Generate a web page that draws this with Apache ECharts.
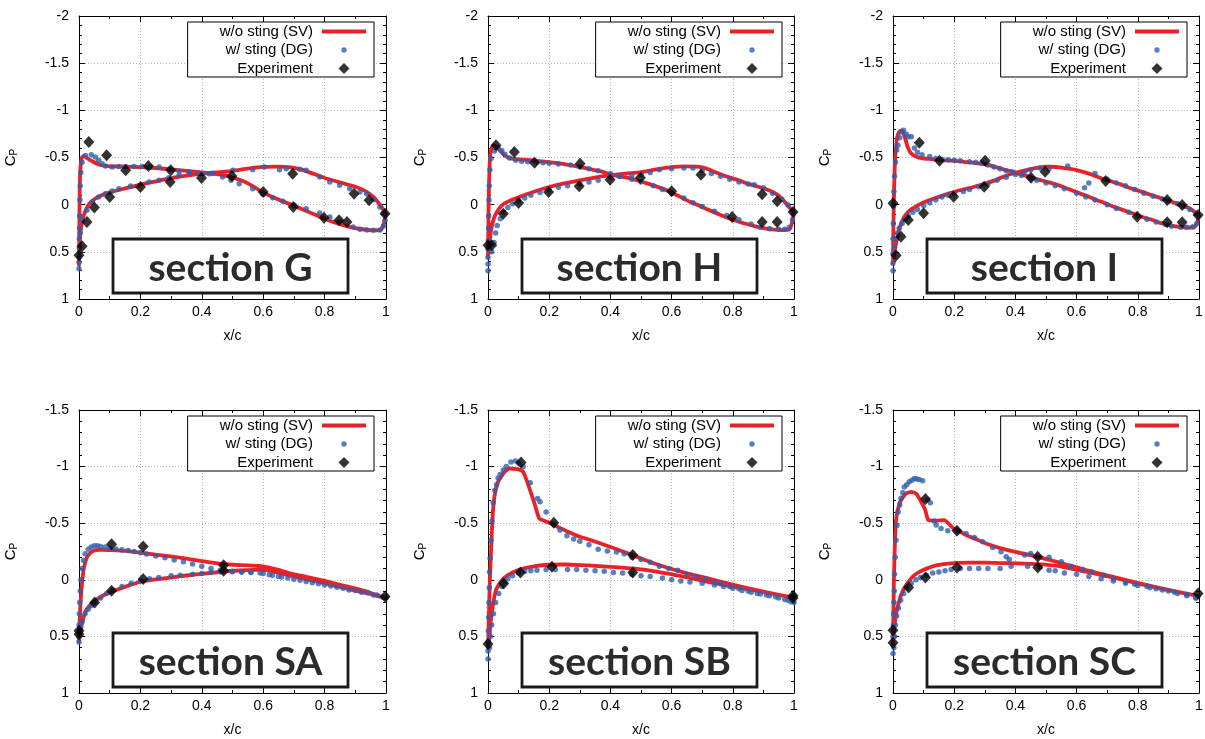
<!DOCTYPE html>
<html><head><meta charset="utf-8">
<script src="https://cdn.jsdelivr.net/npm/echarts@6/dist/echarts.min.js"></script>
<style>html,body{margin:0;padding:0;background:#fff}#c{width:1205px;height:739px}</style>
</head><body><div id="c"></div>
<script>
// ---------------- DATA ----------------
const SERIES_NAMES = ['w/o sting (SV)', 'w/ sting (DG)', 'Experiment'];
const SECTIONS = ['section G', 'section H', 'section I', 'section SA', 'section SB', 'section SC'];
const Y_MIN = [-2, -2, -2, -1.5, -1.5, -1.5];
const Y_MAX = [1, 1, 1, 1, 1, 1];
const X_LABEL = 'x/c';

const G_SV = [[1.0,0.1],[0.993,0.2],[0.985,0.262],[0.96,0.272],[0.937,0.266],[0.9,0.248],[0.87,0.226],[0.84,0.197],[0.806,0.157],[0.77,0.108],[0.74,0.066],[0.70,0.012],[0.665,-0.034],[0.63,-0.082],[0.6,-0.127],[0.566,-0.197],[0.53,-0.255],[0.49,-0.298],[0.45,-0.323],[0.4,-0.343],[0.35,-0.358],[0.3,-0.373],[0.25,-0.388],[0.2,-0.398],[0.15,-0.404],[0.1,-0.406],[0.07,-0.42],[0.045,-0.458],[0.025,-0.497],[0.015,-0.518],[0.008,-0.49],[0.004,-0.35],[0.002,-0.1],[0.001,0.3],[0.0,0.64],[0.003,0.35],[0.008,0.22],[0.015,0.12],[0.025,0.035],[0.035,-0.015],[0.05,-0.058],[0.07,-0.095],[0.1,-0.13],[0.15,-0.172],[0.2,-0.212],[0.25,-0.248],[0.3,-0.282],[0.35,-0.308],[0.4,-0.328],[0.45,-0.343],[0.5,-0.358],[0.55,-0.382],[0.6,-0.4],[0.65,-0.404],[0.69,-0.396],[0.72,-0.376],[0.76,-0.332],[0.8,-0.283],[0.85,-0.237],[0.9,-0.19],[0.93,-0.148],[0.96,-0.08],[0.98,0.0],[0.993,0.06],[1.0,0.1]];
const G_DG = [[0.0,0.68],[0.0,0.61],[0.0,0.55],[0.001,0.46],[0.001,0.36],[0.002,0.25],[0.002,0.12],[0.003,-0.05],[0.004,-0.2],[0.006,-0.34],[0.01,-0.45],[0.021,-0.52],[0.04,-0.53],[0.053,-0.505],[0.064,-0.47],[0.075,-0.435],[0.086,-0.41],[0.108,-0.4],[0.13,-0.405],[0.152,-0.405],[0.179,-0.405],[0.206,-0.405],[0.233,-0.4],[0.261,-0.398],[0.293,-0.375],[0.326,-0.355],[0.359,-0.346],[0.391,-0.33],[0.424,-0.328],[0.468,-0.293],[0.495,-0.258],[0.522,-0.223],[0.566,-0.17],[0.599,-0.11],[0.631,-0.074],[0.664,-0.035],[0.702,0.007],[0.74,0.042],[0.784,0.088],[0.817,0.131],[0.849,0.184],[0.893,0.237],[0.915,0.261],[0.937,0.268],[0.959,0.272],[0.98,0.268],[0.991,0.23],[0.997,0.166],[0.004,0.3],[0.01,0.166],[0.026,0.06],[0.043,-0.028],[0.064,-0.081],[0.086,-0.117],[0.108,-0.145],[0.13,-0.17],[0.168,-0.198],[0.228,-0.24],[0.261,-0.258],[0.293,-0.286],[0.326,-0.311],[0.359,-0.339],[0.402,-0.329],[0.435,-0.33],[0.501,-0.364],[0.566,-0.371],[0.604,-0.4],[0.653,-0.371],[0.675,-0.382],[0.719,-0.375],[0.74,-0.364],[0.784,-0.293],[0.817,-0.24],[0.849,-0.205],[0.882,-0.17],[0.915,-0.134],[0.937,-0.117],[0.959,-0.053],[0.98,0.025],[0.991,0.09]];
const G_EXP = [[0.0,0.537],[0.01,0.44],[0.026,0.184],[0.05,0.03],[0.1,-0.08],[0.032,-0.664],[0.09,-0.523],[0.152,-0.364],[0.2,-0.187],[0.226,-0.41],[0.299,-0.364],[0.297,-0.24],[0.399,-0.283],[0.498,-0.304],[0.6,-0.134],[0.696,-0.329],[0.698,0.025],[0.798,0.138],[0.847,0.166],[0.873,0.184],[0.896,-0.117],[0.945,-0.046],[0.997,0.095]];

const H_SV = [[1.0,0.09],[0.993,0.2],[0.985,0.262],[0.96,0.27],[0.937,0.265],[0.9,0.248],[0.87,0.228],[0.84,0.2],[0.81,0.17],[0.78,0.135],[0.75,0.095],[0.72,0.055],[0.69,0.01],[0.66,-0.03],[0.63,-0.08],[0.6,-0.13],[0.57,-0.17],[0.54,-0.205],[0.5,-0.245],[0.47,-0.275],[0.43,-0.3],[0.4,-0.322],[0.37,-0.352],[0.33,-0.38],[0.3,-0.4],[0.27,-0.418],[0.24,-0.435],[0.2,-0.45],[0.15,-0.468],[0.1,-0.48],[0.075,-0.49],[0.055,-0.52],[0.04,-0.57],[0.028,-0.615],[0.018,-0.625],[0.012,-0.6],[0.007,-0.52],[0.004,-0.3],[0.002,0.0],[0.001,0.3],[0.0,0.55],[0.005,0.4],[0.01,0.27],[0.021,0.13],[0.037,0.04],[0.05,-0.005],[0.064,-0.03],[0.08,-0.055],[0.108,-0.088],[0.152,-0.14],[0.2,-0.187],[0.25,-0.225],[0.3,-0.258],[0.35,-0.287],[0.4,-0.312],[0.45,-0.33],[0.5,-0.346],[0.54,-0.368],[0.57,-0.385],[0.6,-0.398],[0.64,-0.405],[0.68,-0.404],[0.7,-0.395],[0.72,-0.375],[0.75,-0.335],[0.78,-0.298],[0.82,-0.258],[0.85,-0.22],[0.88,-0.193],[0.905,-0.168],[0.93,-0.135],[0.95,-0.095],[0.975,-0.01],[0.99,0.05],[1.0,0.09]];
const H_DG = [[0.0,0.7],[0.0,0.63],[0.0,0.56],[0.0,0.47],[0.001,0.38],[0.002,0.25],[0.002,0.12],[0.003,-0.05],[0.004,-0.2],[0.006,-0.37],[0.01,-0.49],[0.021,-0.57],[0.033,-0.6],[0.045,-0.575],[0.055,-0.535],[0.07,-0.495],[0.09,-0.47],[0.11,-0.46],[0.13,-0.455],[0.16,-0.45],[0.18,-0.445],[0.2,-0.44],[0.23,-0.43],[0.27,-0.42],[0.3,-0.4],[0.33,-0.38],[0.36,-0.36],[0.4,-0.33],[0.43,-0.3],[0.47,-0.27],[0.5,-0.24],[0.54,-0.2],[0.57,-0.16],[0.6,-0.12],[0.64,-0.07],[0.67,-0.02],[0.7,0.02],[0.74,0.07],[0.78,0.115],[0.82,0.16],[0.86,0.205],[0.89,0.24],[0.92,0.255],[0.95,0.26],[0.97,0.26],[0.985,0.24],[0.995,0.16],[0.012,0.5],[0.02,0.4],[0.025,0.3],[0.03,0.22],[0.04,0.15],[0.05,0.08],[0.065,0.03],[0.08,-0.01],[0.1,-0.04],[0.12,-0.07],[0.14,-0.1],[0.17,-0.13],[0.2,-0.155],[0.23,-0.185],[0.26,-0.2],[0.3,-0.22],[0.33,-0.24],[0.36,-0.26],[0.4,-0.29],[0.43,-0.3],[0.47,-0.31],[0.5,-0.32],[0.53,-0.34],[0.56,-0.37],[0.6,-0.38],[0.64,-0.39],[0.67,-0.39],[0.7,-0.36],[0.73,-0.33],[0.76,-0.3],[0.79,-0.27],[0.82,-0.24],[0.85,-0.22],[0.87,-0.21],[0.9,-0.18],[0.93,-0.12],[0.96,-0.06],[0.98,0.0],[0.995,0.06]];
const H_EXP = [[0.0,0.43],[0.012,0.43],[0.026,-0.63],[0.086,-0.558],[0.152,-0.445],[0.301,-0.435],[0.05,0.095],[0.1,-0.018],[0.198,-0.134],[0.298,-0.194],[0.399,-0.265],[0.498,-0.286],[0.6,-0.141],[0.696,-0.318],[0.798,0.131],[0.896,-0.11],[0.896,0.184],[0.945,0.184],[0.945,-0.035],[0.997,0.078]];

const I_SV = [[1.0,0.12],[0.993,0.2],[0.985,0.238],[0.96,0.242],[0.93,0.232],[0.904,0.216],[0.87,0.19],[0.85,0.165],[0.81,0.125],[0.784,0.094],[0.75,0.055],[0.72,0.02],[0.69,-0.02],[0.664,-0.05],[0.64,-0.085],[0.61,-0.12],[0.58,-0.158],[0.555,-0.19],[0.53,-0.218],[0.5,-0.245],[0.47,-0.27],[0.446,-0.296],[0.42,-0.32],[0.39,-0.35],[0.36,-0.375],[0.33,-0.405],[0.3,-0.43],[0.26,-0.445],[0.2,-0.465],[0.15,-0.473],[0.12,-0.485],[0.097,-0.49],[0.075,-0.51],[0.059,-0.544],[0.048,-0.61],[0.04,-0.7],[0.032,-0.775],[0.026,-0.785],[0.02,-0.77],[0.014,-0.72],[0.01,-0.62],[0.006,-0.42],[0.003,-0.1],[0.001,0.3],[0.0,0.62],[0.005,0.5],[0.01,0.41],[0.021,0.25],[0.037,0.127],[0.05,0.075],[0.064,0.04],[0.08,0.01],[0.097,-0.02],[0.125,-0.055],[0.152,-0.085],[0.2,-0.137],[0.26,-0.185],[0.304,-0.226],[0.33,-0.255],[0.36,-0.296],[0.4,-0.338],[0.446,-0.375],[0.48,-0.395],[0.5,-0.403],[0.52,-0.402],[0.544,-0.396],[0.57,-0.383],[0.6,-0.367],[0.63,-0.34],[0.653,-0.314],[0.68,-0.28],[0.708,-0.252],[0.74,-0.22],[0.762,-0.19],[0.8,-0.15],[0.828,-0.12],[0.86,-0.085],[0.893,-0.05],[0.937,0.0],[0.97,0.04],[0.991,0.09],[1.0,0.12]];
const I_DG = [[0.0,0.7],[0.0,0.62],[0.0,0.52],[0.0,0.36],[0.001,0.2],[0.002,0.02],[0.003,-0.14],[0.005,-0.3],[0.008,-0.45],[0.012,-0.58],[0.016,-0.63],[0.022,-0.71],[0.028,-0.77],[0.034,-0.79],[0.043,-0.75],[0.05,-0.72],[0.06,-0.72],[0.07,-0.6],[0.08,-0.555],[0.095,-0.53],[0.12,-0.51],[0.14,-0.49],[0.16,-0.48],[0.18,-0.475],[0.2,-0.47],[0.22,-0.465],[0.25,-0.455],[0.27,-0.45],[0.29,-0.44],[0.31,-0.42],[0.33,-0.4],[0.35,-0.38],[0.37,-0.36],[0.39,-0.345],[0.42,-0.31],[0.45,-0.28],[0.47,-0.26],[0.5,-0.23],[0.53,-0.2],[0.56,-0.17],[0.6,-0.12],[0.63,-0.08],[0.66,-0.05],[0.7,0.0],[0.73,0.04],[0.77,0.08],[0.8,0.12],[0.83,0.155],[0.86,0.185],[0.89,0.21],[0.91,0.23],[0.94,0.24],[0.96,0.24],[0.98,0.235],[0.993,0.2],[0.005,0.45],[0.01,0.36],[0.015,0.3],[0.02,0.25],[0.03,0.2],[0.04,0.16],[0.05,0.12],[0.065,0.08],[0.08,0.05],[0.1,0.01],[0.12,-0.02],[0.14,-0.05],[0.16,-0.08],[0.18,-0.1],[0.2,-0.12],[0.23,-0.14],[0.25,-0.16],[0.28,-0.19],[0.31,-0.22],[0.34,-0.26],[0.37,-0.29],[0.4,-0.32],[0.43,-0.35],[0.45,-0.37],[0.48,-0.39],[0.51,-0.38],[0.571,-0.41],[0.626,-0.18],[0.64,-0.23],[0.66,-0.33],[0.7,-0.27],[0.73,-0.23],[0.76,-0.2],[0.79,-0.16],[0.82,-0.12],[0.85,-0.09],[0.88,-0.06],[0.9,-0.04],[0.93,-0.01],[0.95,0.02],[0.97,0.05],[0.99,0.1]];
const I_EXP = [[0.0,-0.014],[0.01,0.54],[0.026,0.34],[0.05,0.163],[0.1,0.092],[0.086,-0.657],[0.152,-0.466],[0.301,-0.466],[0.198,-0.085],[0.298,-0.19],[0.451,-0.286],[0.497,-0.35],[0.695,-0.25],[0.798,0.127],[0.896,-0.05],[0.945,0.004],[0.896,0.187],[0.945,0.187],[0.997,0.11]];

const SA_SV = [[1.0,0.165],[0.937,0.103],[0.85,0.044],[0.8,0.01],[0.74,-0.026],[0.69,-0.055],[0.653,-0.085],[0.62,-0.108],[0.588,-0.122],[0.55,-0.128],[0.5,-0.133],[0.457,-0.142],[0.4,-0.165],[0.35,-0.186],[0.304,-0.205],[0.25,-0.222],[0.2,-0.24],[0.15,-0.255],[0.108,-0.262],[0.08,-0.265],[0.064,-0.265],[0.05,-0.26],[0.043,-0.25],[0.035,-0.232],[0.026,-0.2],[0.015,-0.09],[0.008,0.09],[0.004,0.25],[0.002,0.38],[0.0,0.54],[0.005,0.45],[0.01,0.38],[0.021,0.28],[0.037,0.22],[0.05,0.19],[0.064,0.162],[0.085,0.13],[0.108,0.103],[0.152,0.06],[0.2,0.017],[0.25,-0.004],[0.304,-0.022],[0.35,-0.038],[0.4,-0.052],[0.468,-0.072],[0.522,-0.082],[0.57,-0.087],[0.6,-0.088],[0.63,-0.075],[0.653,-0.06],[0.7,-0.03],[0.74,-0.006],[0.8,0.03],[0.85,0.063],[0.9,0.095],[0.937,0.118],[0.97,0.14],[1.0,0.165]];
const SA_DG = [[0.0,0.55],[0.0,0.5],[0.0,0.4],[0.001,0.3],[0.002,0.2],[0.004,0.1],[0.006,0.0],[0.01,-0.1],[0.015,-0.17],[0.02,-0.23],[0.03,-0.27],[0.04,-0.29],[0.05,-0.3],[0.06,-0.3],[0.07,-0.295],[0.085,-0.29],[0.1,-0.28],[0.12,-0.272],[0.14,-0.265],[0.16,-0.258],[0.18,-0.25],[0.2,-0.24],[0.22,-0.228],[0.25,-0.21],[0.28,-0.195],[0.31,-0.175],[0.34,-0.16],[0.37,-0.14],[0.4,-0.12],[0.43,-0.1],[0.46,-0.085],[0.5,-0.075],[0.53,-0.07],[0.56,-0.065],[0.6,-0.055],[0.63,-0.04],[0.66,-0.025],[0.7,-0.005],[0.74,0.015],[0.78,0.035],[0.82,0.055],[0.86,0.075],[0.9,0.095],[0.94,0.115],[0.97,0.135],[1.0,0.16],[0.005,0.42],[0.01,0.37],[0.02,0.3],[0.03,0.26],[0.04,0.23],[0.05,0.2],[0.07,0.16],[0.09,0.12],[0.11,0.09],[0.14,0.06],[0.17,0.03],[0.2,0.01],[0.23,-0.01],[0.26,-0.02],[0.3,-0.035],[0.33,-0.04],[0.37,-0.05],[0.4,-0.055],[0.43,-0.065],[0.46,-0.07],[0.5,-0.072],[0.53,-0.072],[0.56,-0.068],[0.59,-0.06],[0.62,-0.045],[0.65,-0.03],[0.68,-0.015],[0.72,0.005],[0.76,0.025],[0.8,0.045],[0.84,0.065],[0.88,0.09],[0.92,0.11],[0.96,0.135],[0.99,0.155]];
const SA_EXP = [[0.0,0.45],[0.0,0.48],[0.051,0.2],[0.106,0.097],[0.209,-0.006],[0.471,-0.079],[0.106,-0.315],[0.209,-0.294],[0.471,-0.129],[0.997,0.147]];

const SB_SV = [[1.0,0.16],[0.904,0.106],[0.806,0.047],[0.719,-0.012],[0.631,-0.071],[0.544,-0.144],[0.473,-0.218],[0.4,-0.29],[0.337,-0.35],[0.3,-0.38],[0.261,-0.424],[0.23,-0.465],[0.2,-0.504],[0.168,-0.54],[0.152,-0.674],[0.13,-0.851],[0.115,-0.955],[0.1,-0.975],[0.086,-0.98],[0.07,-0.983],[0.055,-0.955],[0.043,-0.91],[0.032,-0.86],[0.021,-0.733],[0.015,-0.556],[0.01,-0.26],[0.006,0.0],[0.003,0.3],[0.0,0.6],[0.005,0.5],[0.008,0.386],[0.015,0.24],[0.026,0.09],[0.043,0.012],[0.064,-0.04],[0.097,-0.085],[0.141,-0.115],[0.2,-0.133],[0.25,-0.135],[0.304,-0.13],[0.35,-0.123],[0.4,-0.115],[0.473,-0.1],[0.555,-0.071],[0.631,-0.032],[0.719,0.018],[0.806,0.062],[0.904,0.108],[1.0,0.16]];
const SB_DG = [[0.0,0.7],[0.0,0.63],[0.0,0.55],[0.001,0.45],[0.002,0.33],[0.003,0.2],[0.004,0.07],[0.005,-0.07],[0.007,-0.19],[0.01,-0.35],[0.013,-0.52],[0.017,-0.68],[0.022,-0.79],[0.028,-0.84],[0.033,-0.9],[0.04,-0.93],[0.05,-0.97],[0.06,-1.0],[0.075,-1.04],[0.09,-1.05],[0.1,-1.03],[0.115,-1.0],[0.138,-0.857],[0.162,-0.718],[0.17,-0.69],[0.19,-0.6],[0.215,-0.49],[0.235,-0.44],[0.258,-0.39],[0.28,-0.36],[0.3,-0.34],[0.33,-0.31],[0.36,-0.27],[0.39,-0.255],[0.42,-0.245],[0.445,-0.23],[0.47,-0.2],[0.5,-0.18],[0.53,-0.155],[0.56,-0.12],[0.59,-0.1],[0.62,-0.085],[0.65,-0.05],[0.68,-0.03],[0.71,-0.01],[0.74,0.02],[0.76,0.035],[0.79,0.06],[0.82,0.08],[0.85,0.1],[0.88,0.12],[0.91,0.135],[0.94,0.15],[0.97,0.175],[0.99,0.195],[0.005,0.6],[0.008,0.5],[0.012,0.4],[0.018,0.3],[0.025,0.2],[0.035,0.12],[0.045,0.06],[0.055,0.02],[0.065,-0.01],[0.08,-0.035],[0.1,-0.06],[0.12,-0.075],[0.14,-0.08],[0.16,-0.085],[0.19,-0.09],[0.22,-0.09],[0.26,-0.09],[0.29,-0.09],[0.32,-0.085],[0.35,-0.08],[0.38,-0.075],[0.41,-0.065],[0.44,-0.06],[0.47,-0.05],[0.5,-0.035],[0.53,-0.03],[0.57,-0.015],[0.6,0.0],[0.63,0.01],[0.66,0.02],[0.7,0.03],[0.74,0.045],[0.77,0.06],[0.8,0.075],[0.83,0.095],[0.86,0.11],[0.89,0.125],[0.92,0.14],[0.95,0.16],[0.98,0.18],[1.0,0.2]];
const SB_EXP = [[0.0,0.568],[0.051,0.032],[0.106,-0.065],[0.209,-0.115],[0.473,-0.065],[0.108,-1.037],[0.215,-0.504],[0.473,-0.218],[0.997,0.141],[0.997,0.16]];

const SC_SV = [[1.0,0.145],[0.904,0.091],[0.806,0.032],[0.719,-0.027],[0.631,-0.085],[0.555,-0.144],[0.473,-0.203],[0.4,-0.247],[0.35,-0.28],[0.304,-0.321],[0.27,-0.36],[0.239,-0.395],[0.21,-0.44],[0.195,-0.46],[0.168,-0.527],[0.141,-0.522],[0.115,-0.53],[0.105,-0.62],[0.092,-0.69],[0.075,-0.763],[0.059,-0.777],[0.045,-0.765],[0.035,-0.74],[0.021,-0.674],[0.01,-0.53],[0.006,-0.3],[0.003,0.0],[0.0,0.55],[0.005,0.4],[0.01,0.3],[0.021,0.18],[0.03,0.11],[0.043,0.047],[0.064,-0.027],[0.08,-0.06],[0.097,-0.085],[0.141,-0.128],[0.2,-0.148],[0.25,-0.152],[0.304,-0.152],[0.35,-0.148],[0.4,-0.145],[0.473,-0.138],[0.555,-0.115],[0.631,-0.071],[0.719,-0.021],[0.806,0.036],[0.904,0.093],[1.0,0.145]];
const SC_DG = [[0.0,0.65],[0.0,0.58],[0.0,0.5],[0.001,0.4],[0.002,0.3],[0.003,0.2],[0.004,0.1],[0.005,-0.05],[0.007,-0.2],[0.01,-0.35],[0.013,-0.48],[0.017,-0.6],[0.022,-0.66],[0.026,-0.72],[0.032,-0.77],[0.037,-0.82],[0.045,-0.84],[0.053,-0.866],[0.062,-0.88],[0.07,-0.895],[0.078,-0.89],[0.086,-0.886],[0.097,-0.875],[0.113,-0.704],[0.122,-0.68],[0.135,-0.52],[0.141,-0.483],[0.157,-0.453],[0.179,-0.433],[0.212,-0.424],[0.239,-0.41],[0.266,-0.374],[0.293,-0.336],[0.326,-0.286],[0.353,-0.247],[0.37,-0.203],[0.38,-0.18],[0.43,-0.218],[0.45,-0.233],[0.51,-0.2],[0.55,-0.16],[0.58,-0.12],[0.62,-0.09],[0.65,-0.07],[0.69,-0.04],[0.72,-0.01],[0.76,0.02],[0.79,0.04],[0.83,0.06],[0.86,0.08],[0.9,0.1],[0.93,0.12],[0.96,0.14],[0.99,0.16],[0.003,0.6],[0.005,0.5],[0.008,0.4],[0.012,0.32],[0.018,0.25],[0.025,0.18],[0.035,0.12],[0.045,0.07],[0.06,0.03],[0.075,0.0],[0.09,-0.02],[0.11,-0.04],[0.13,-0.06],[0.15,-0.07],[0.17,-0.08],[0.19,-0.09],[0.22,-0.1],[0.25,-0.1],[0.28,-0.1],[0.31,-0.1],[0.35,-0.1],[0.386,-0.12],[0.44,-0.12],[0.48,-0.11],[0.51,-0.085],[0.53,-0.08],[0.56,-0.06],[0.6,-0.05],[0.64,-0.03],[0.68,-0.01],[0.72,0.01],[0.76,0.03],[0.8,0.05],[0.84,0.07],[0.88,0.09],[0.92,0.11],[0.96,0.13],[0.99,0.16]];
const SC_EXP = [[0.0,0.445],[0.0,0.557],[0.051,0.068],[0.106,-0.021],[0.209,-0.109],[0.473,-0.109],[0.106,-0.713],[0.209,-0.433],[0.473,-0.203],[0.997,0.121]];

const SV_DATA = [G_SV, H_SV, I_SV, SA_SV, SB_SV, SC_SV];
const DG_DATA = [G_DG, H_DG, I_DG, SA_DG, SB_DG, SC_DG];
const EXP_DATA = [G_EXP, H_EXP, I_EXP, SA_EXP, SB_EXP, SC_EXP];

// ---------------- LAYOUT / STYLE ----------------
const W = 1205;
const GRIDS = [
  {left: 79, top: 16, width: 307, height: 283},
  {left: 488, top: 16, width: 306, height: 283},
  {left: 893, top: 16, width: 306, height: 283},
  {left: 79, top: 410, width: 307, height: 283},
  {left: 488, top: 410, width: 306, height: 283},
  {left: 893, top: 410, width: 306, height: 283}
];
const RED = '#ea2228';
const BLUE = '#2f5fae';
const FONT = 'Liberation Sans';

const ICON_LINE = 'path://M0,0M48,12M4,4L48,4L48,8L4,8Z';
const ICON_DOT = 'path://M0,0M48,12M23.3,6A2.7,2.7 0 1,0 28.7,6A2.7,2.7 0 1,0 23.3,6Z';
const ICON_DIA = 'path://M0,0M48,12M26,0.5L31.5,6L26,11.5L20.5,6Z';

const grid = [], xAxis = [], yAxis = [], series = [], legend = [], graphic = [];

GRIDS.forEach((g, i) => {
  grid.push({left: g.left, top: g.top, width: g.width, height: g.height, outerBoundsMode: 'none'});
  const baseAxis = {
    type: 'value', gridIndex: i,
    axisLine: {show: true, onZero: false, lineStyle: {color: '#000', width: 1}},
    axisTick: {show: true, inside: true, length: 6, lineStyle: {color: '#000', width: 1}},
  };
  xAxis.push(Object.assign({}, baseAxis, {
    position: 'bottom', min: 0, max: 1, interval: 0.2,
    minorTick: {show: true, splitNumber: 2, length: 3, lineStyle: {color: '#000'}},
    splitLine: {show: true, lineStyle: {color: '#b4b4b4', type: [1, 2], width: 1}},
    axisLabel: {show: true, margin: 6, fontSize: 14, fontFamily: FONT, color: '#000'},
    name: X_LABEL, nameLocation: 'middle', nameGap: 30,
    nameTextStyle: {fontSize: 14, fontFamily: FONT, color: '#000'}
  }));
  xAxis.push(Object.assign({}, baseAxis, {
    position: 'top', min: 0, max: 1, interval: 0.2,
    minorTick: {show: true, splitNumber: 2, length: 3, lineStyle: {color: '#000'}},
    splitLine: {show: false}, axisLabel: {show: false}
  }));
  yAxis.push(Object.assign({}, baseAxis, {
    position: 'left', inverse: true, min: Y_MIN[i], max: Y_MAX[i], interval: 0.5,
    minorTick: {show: true, splitNumber: 5, length: 3, lineStyle: {color: '#000'}},
    splitLine: {show: true, lineStyle: {color: '#b4b4b4', type: [1, 2], width: 1}},
    axisLabel: {show: true, margin: 10, fontSize: 14, fontFamily: FONT, color: '#000'},
    name: '{c|C}{p|P}', nameLocation: 'middle', nameRotate: 90, nameGap: 60,
    nameTextStyle: {
      color: '#000', fontFamily: FONT,
      rich: {
        c: {fontSize: 15, fontFamily: FONT, color: '#000'},
        p: {fontSize: 10, fontFamily: FONT, color: '#000', padding: [6, 0, 0, 0]}
      }
    }
  }));
  yAxis.push(Object.assign({}, baseAxis, {
    position: 'right', inverse: true, min: Y_MIN[i], max: Y_MAX[i], interval: 0.5,
    minorTick: {show: true, splitNumber: 5, length: 3, lineStyle: {color: '#000'}},
    splitLine: {show: false}, axisLabel: {show: false}
  }));

  series.push({
    type: 'line', name: SERIES_NAMES[0], xAxisIndex: 2 * i, yAxisIndex: 2 * i,
    data: SV_DATA[i], showSymbol: false, symbol: 'none', smooth: 0.15, clip: false,
    color: RED, itemStyle: {color: RED},
    lineStyle: {color: RED, width: 3.8, cap: 'round', join: 'round'}, z: 2, silent: true
  });
  series.push({
    type: 'scatter', name: SERIES_NAMES[1], xAxisIndex: 2 * i, yAxisIndex: 2 * i,
    data: DG_DATA[i], symbol: 'circle', symbolSize: 5.5, itemStyle: {color: BLUE}, z: 3, silent: true
  });
  series.push({
    type: 'scatter', name: SERIES_NAMES[2], xAxisIndex: 2 * i, yAxisIndex: 2 * i,
    data: EXP_DATA[i], symbol: 'diamond', symbolSize: [11, 12], itemStyle: {color: '#000'}, z: 4, silent: true
  });

  legend.push({
    orient: 'vertical', align: 'right', selectedMode: false,
    right: W - (g.left + g.width - 12), top: g.top + 6,
    itemWidth: 48, itemHeight: 12, itemGap: 3.5,
    padding: [2, 8, 1, 32],
    borderColor: '#000', borderWidth: 1, backgroundColor: '#fff',
    textStyle: {fontSize: 15, fontFamily: FONT, color: '#000', lineHeight: 15},
    data: [
      {name: SERIES_NAMES[0], icon: ICON_LINE, itemStyle: {color: RED, borderWidth: 0}},
      {name: SERIES_NAMES[1], icon: ICON_DOT, itemStyle: {color: BLUE, borderWidth: 0}},
      {name: SERIES_NAMES[2], icon: ICON_DIA, itemStyle: {color: '#000', borderWidth: 0}}
    ]
  });

  const bx = g.left + 34, by = g.top + 223, bw = 235, bh = 54;
  graphic.push({
    type: 'rect', z: 10, silent: true,
    shape: {x: bx, y: by, width: bw, height: bh},
    style: {fill: '#fff', stroke: '#1a1a1a', lineWidth: 2.8}
  });
  graphic.push({
    type: 'text', z: 11, silent: true, x: bx + bw / 2, y: by + bh / 2 + 2,
    style: {text: SECTIONS[i], fontSize: 39, fontWeight: 'bold', fontFamily: 'Lato', fill: '#2b2b2b',
            align: 'center', verticalAlign: 'middle'}
  });
});

const chart = echarts.init(document.getElementById('c'), null, {renderer: 'canvas'});
chart.setOption({
  animation: false,
  backgroundColor: '#fff',
  grid, xAxis, yAxis, series, legend, graphic,
  tooltip: {show: false}
});
</script></body></html>
